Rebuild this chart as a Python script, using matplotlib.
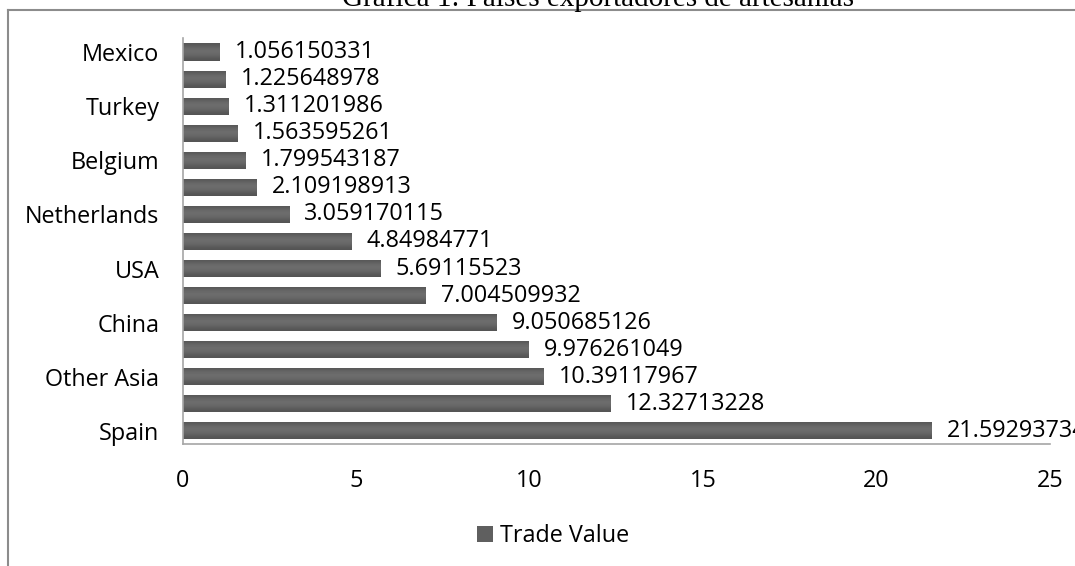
import numpy as np
import matplotlib
matplotlib.use("Agg")
import matplotlib.pyplot as plt
from matplotlib.lines import Line2D

# Trade value by exporting country (top of list = smallest value)
countries = ["Mexico", "", "Turkey", "", "Belgium", "", "Netherlands", "",
             "USA", "", "China", "", "Other Asia", "", "Spain"]
trade_value = [1.056150331, 1.225648978, 1.311201986, 1.563595261, 1.799543187,
               2.109198913, 3.059170115, 4.84984771, 5.69115523, 7.004509932,
               9.050685126, 9.976261049, 10.39117967, 12.32713228, 21.59293734]
value_labels = ["1.056150331", "1.225648978", "1.311201986", "1.563595261",
                "1.799543187", "2.109198913", "3.059170115", "4.84984771",
                "5.69115523", "7.004509932", "9.050685126", "9.976261049",
                "10.39117967", "12.32713228", "21.59293734"]
x_ticks = [0, 5, 10, 15, 20, 25]

title = "Gráfica 1: Países exportadores de artesanías"
series_name = "Trade Value"

font = ["Open Sans", "DejaVu Sans"]
plt.rcParams["font.family"] = font
fs = 16.8

fig = plt.figure(figsize=(10.75, 5.66), dpi=100)
ax = fig.add_axes([0.1702, 0.2147, 0.8065, 0.7173])

ypos = np.arange(len(countries))
bars = ax.barh(ypos, trade_value, height=0.63, color="#5f5f5f", label=series_name)

# soft vertical shading inside each bar
grad = np.array([0.34, 0.40, 0.43, 0.42, 0.38, 0.33]).reshape(-1, 1)
for b in bars:
    x0, y0 = b.get_x(), b.get_y()
    w, h = b.get_width(), b.get_height()
    im = ax.imshow(grad, cmap="gray", vmin=0, vmax=1, aspect="auto",
                   extent=[x0, x0 + w, y0 + h, y0], interpolation="bicubic", zorder=2)
    im.set_clip_path(b)

ax.set_ylim(len(countries) - 0.5, -0.5)
ax.set_xlim(0, 25)
ax.set_xticks(x_ticks)
ax.set_xticklabels([str(t) for t in x_ticks])
ax.set_yticks(ypos)
ax.set_yticklabels(countries)
ax.tick_params(axis="both", length=0, labelsize=fs, colors="black")
ax.tick_params(axis="y", pad=17)
ax.tick_params(axis="x", pad=18)

for s in ["top", "right"]:
    ax.spines[s].set_visible(False)
for s in ["left", "bottom"]:
    ax.spines[s].set_color("#a6a6a6")
    ax.spines[s].set_linewidth(1.2)

for yv, v, lab in zip(ypos, trade_value, value_labels):
    ax.annotate(lab, xy=(v, yv), xytext=(11, 0), textcoords="offset points",
                va="center", ha="left", fontsize=fs, clip_on=False,
                annotation_clip=False)

# outer chart frame (top and left edges visible)
fx0, fy0 = 8 / 1075, 1 - 10 / 566
fig.add_artist(Line2D([fx0, 1.0], [fy0, fy0], transform=fig.transFigure,
                      color="#8c8c8c", linewidth=1.5))
fig.add_artist(Line2D([fx0, fx0], [0.0, fy0], transform=fig.transFigure,
                      color="#8c8c8c", linewidth=1.5))

fig.text(598 / 1075, 1 - 6 / 566, title, ha="center", va="baseline",
         fontsize=21, family=["Liberation Serif", "DejaVu Serif"])

fig.legend(handles=[bars], labels=[series_name], loc="center",
           bbox_to_anchor=(553 / 1075, 1 - 536 / 566), frameon=False,
           fontsize=fs, handlelength=0.65, handleheight=0.65, handletextpad=0.3)

fig.savefig("out.png", dpi=100)
